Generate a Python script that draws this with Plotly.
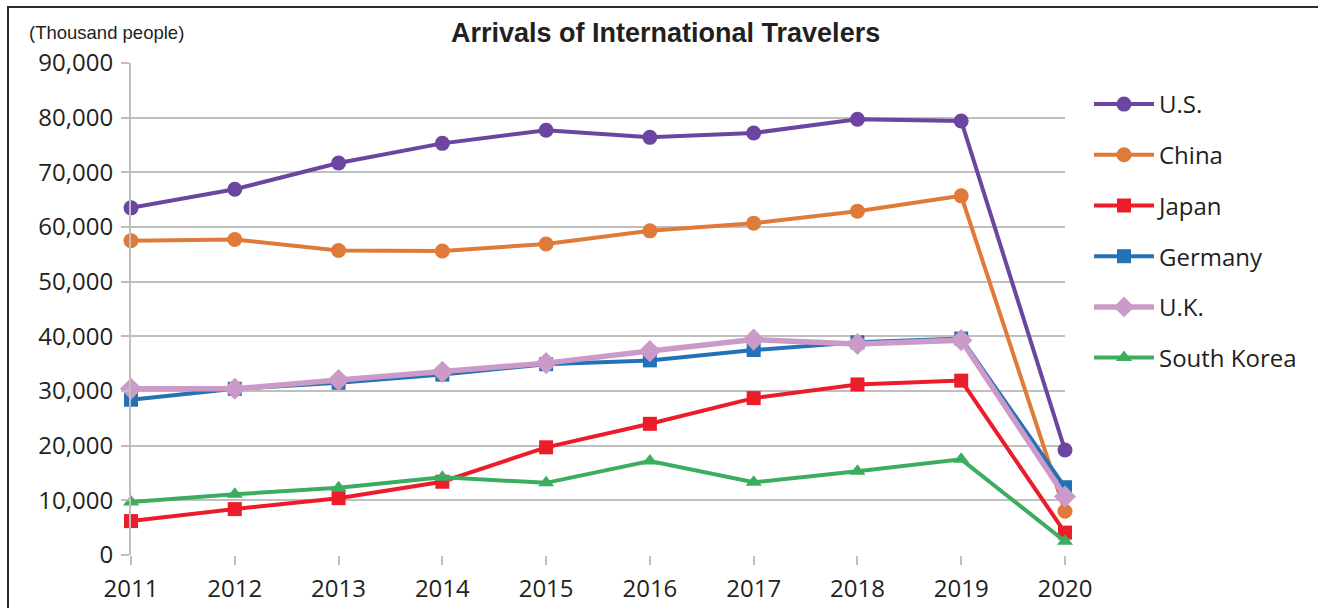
import plotly.graph_objects as go

years = [2011, 2012, 2013, 2014, 2015, 2016, 2017, 2018, 2019, 2020]

us = [63500, 66900, 71700, 75300, 77700, 76400, 77200, 79700, 79400, 19200]
china = [57500, 57700, 55700, 55600, 56900, 59300, 60700, 62900, 65700, 8000]
japan = [6200, 8400, 10400, 13400, 19700, 24000, 28700, 31200, 31900, 4100]
germany = [28400, 30400, 31500, 33000, 34900, 35600, 37500, 38900, 39600, 12400]
uk = [30400, 30400, 32000, 33500, 35100, 37300, 39400, 38600, 39300, 10700]
south_korea = [9700, 11100, 12300, 14200, 13200, 17200, 13300, 15300, 17500, 2500]

series = [
    ("U.S.", us, "#6c45a0", "circle", 15, 4),
    ("China", china, "#e07a38", "circle", 15, 4),
    ("Japan", japan, "#ec1c2a", "square", 14, 4),
    ("Germany", germany, "#2372b6", "square", 14, 4),
    ("U.K.", uk, "#cc9ac8", "diamond", 17, 5.5),
    ("South Korea", south_korea, "#3aae5e", "triangle-up", 14, 4),
]

fig = go.Figure()
for i, (name, vals, color, symbol, size, width) in enumerate(series):
    fig.add_trace(go.Scatter(
        x=years, y=vals, name=name, mode="lines+markers",
        line=dict(color=color, width=width),
        marker=dict(symbol=symbol, size=size, color=color),
        cliponaxis=False, legendgroup=f"g{i}",
    ))

W, H = 1318, 608
L, R, T, B = 131, 253, 63, 53
pw, ph = W - L - R, H - T - B


def px_x(p):
    return (p - L) / pw


def px_y(p):
    return (H - B - p) / ph


fig.update_layout(
    width=W, height=H,
    margin=dict(l=L, r=R, t=T, b=B, autoexpand=False),
    paper_bgcolor="white", plot_bgcolor="white",
    font=dict(family="Open Sans", size=24, color="#231f20"),
    showlegend=True,
    legend=dict(
        x=px_x(1089), y=px_y(82), xanchor="left", yanchor="top",
        font=dict(family="Open Sans", size=24, color="#231f20"),
        tracegroupgap=16.5, bgcolor="rgba(0,0,0,0)", itemwidth=60,
    ),
    xaxis=dict(
        range=[2011, 2020], tickmode="array", tickvals=years,
        ticktext=[str(y) for y in years],
        showgrid=False, zeroline=False, automargin=False,
        ticks="outside", ticklen=9, tickwidth=2, tickcolor="#bfbfbf",
        showline=False, ticklabelstandoff=3,
        tickfont=dict(family="Open Sans", size=24),
    ),
    yaxis=dict(
        range=[0, 90000], dtick=10000, tickformat=",",
        showgrid=True, gridcolor="#bfbfbf", gridwidth=2,
        zeroline=False, automargin=False,
        showline=True, linecolor="#bfbfbf", linewidth=2,
        ticks="outside", ticklen=8, tickwidth=2, tickcolor="#bfbfbf",
        ticklabelstandoff=3,
        tickfont=dict(family="Open Sans", size=24),
    ),
    annotations=[
        dict(text="<b>Arrivals of International Travelers</b>",
             xref="paper", yref="paper", x=px_x(665), y=px_y(33),
             xanchor="center", yanchor="middle", showarrow=False,
             font=dict(family="Liberation Sans", size=27, color="#231f20")),
        dict(text="(Thousand people)",
             xref="paper", yref="paper", x=px_x(27), y=px_y(33),
             xanchor="left", yanchor="middle", showarrow=False,
             font=dict(family="Liberation Sans", size=18.5, color="#231f20")),
    ],
    shapes=[
        dict(type="rect", xref="paper", yref="paper",
             x0=px_x(8), x1=px_x(1330), y0=px_y(620), y1=px_y(7),
             line=dict(color="#2b2b2b", width=2), layer="below"),
    ],
)

fig.write_html("out.html")
